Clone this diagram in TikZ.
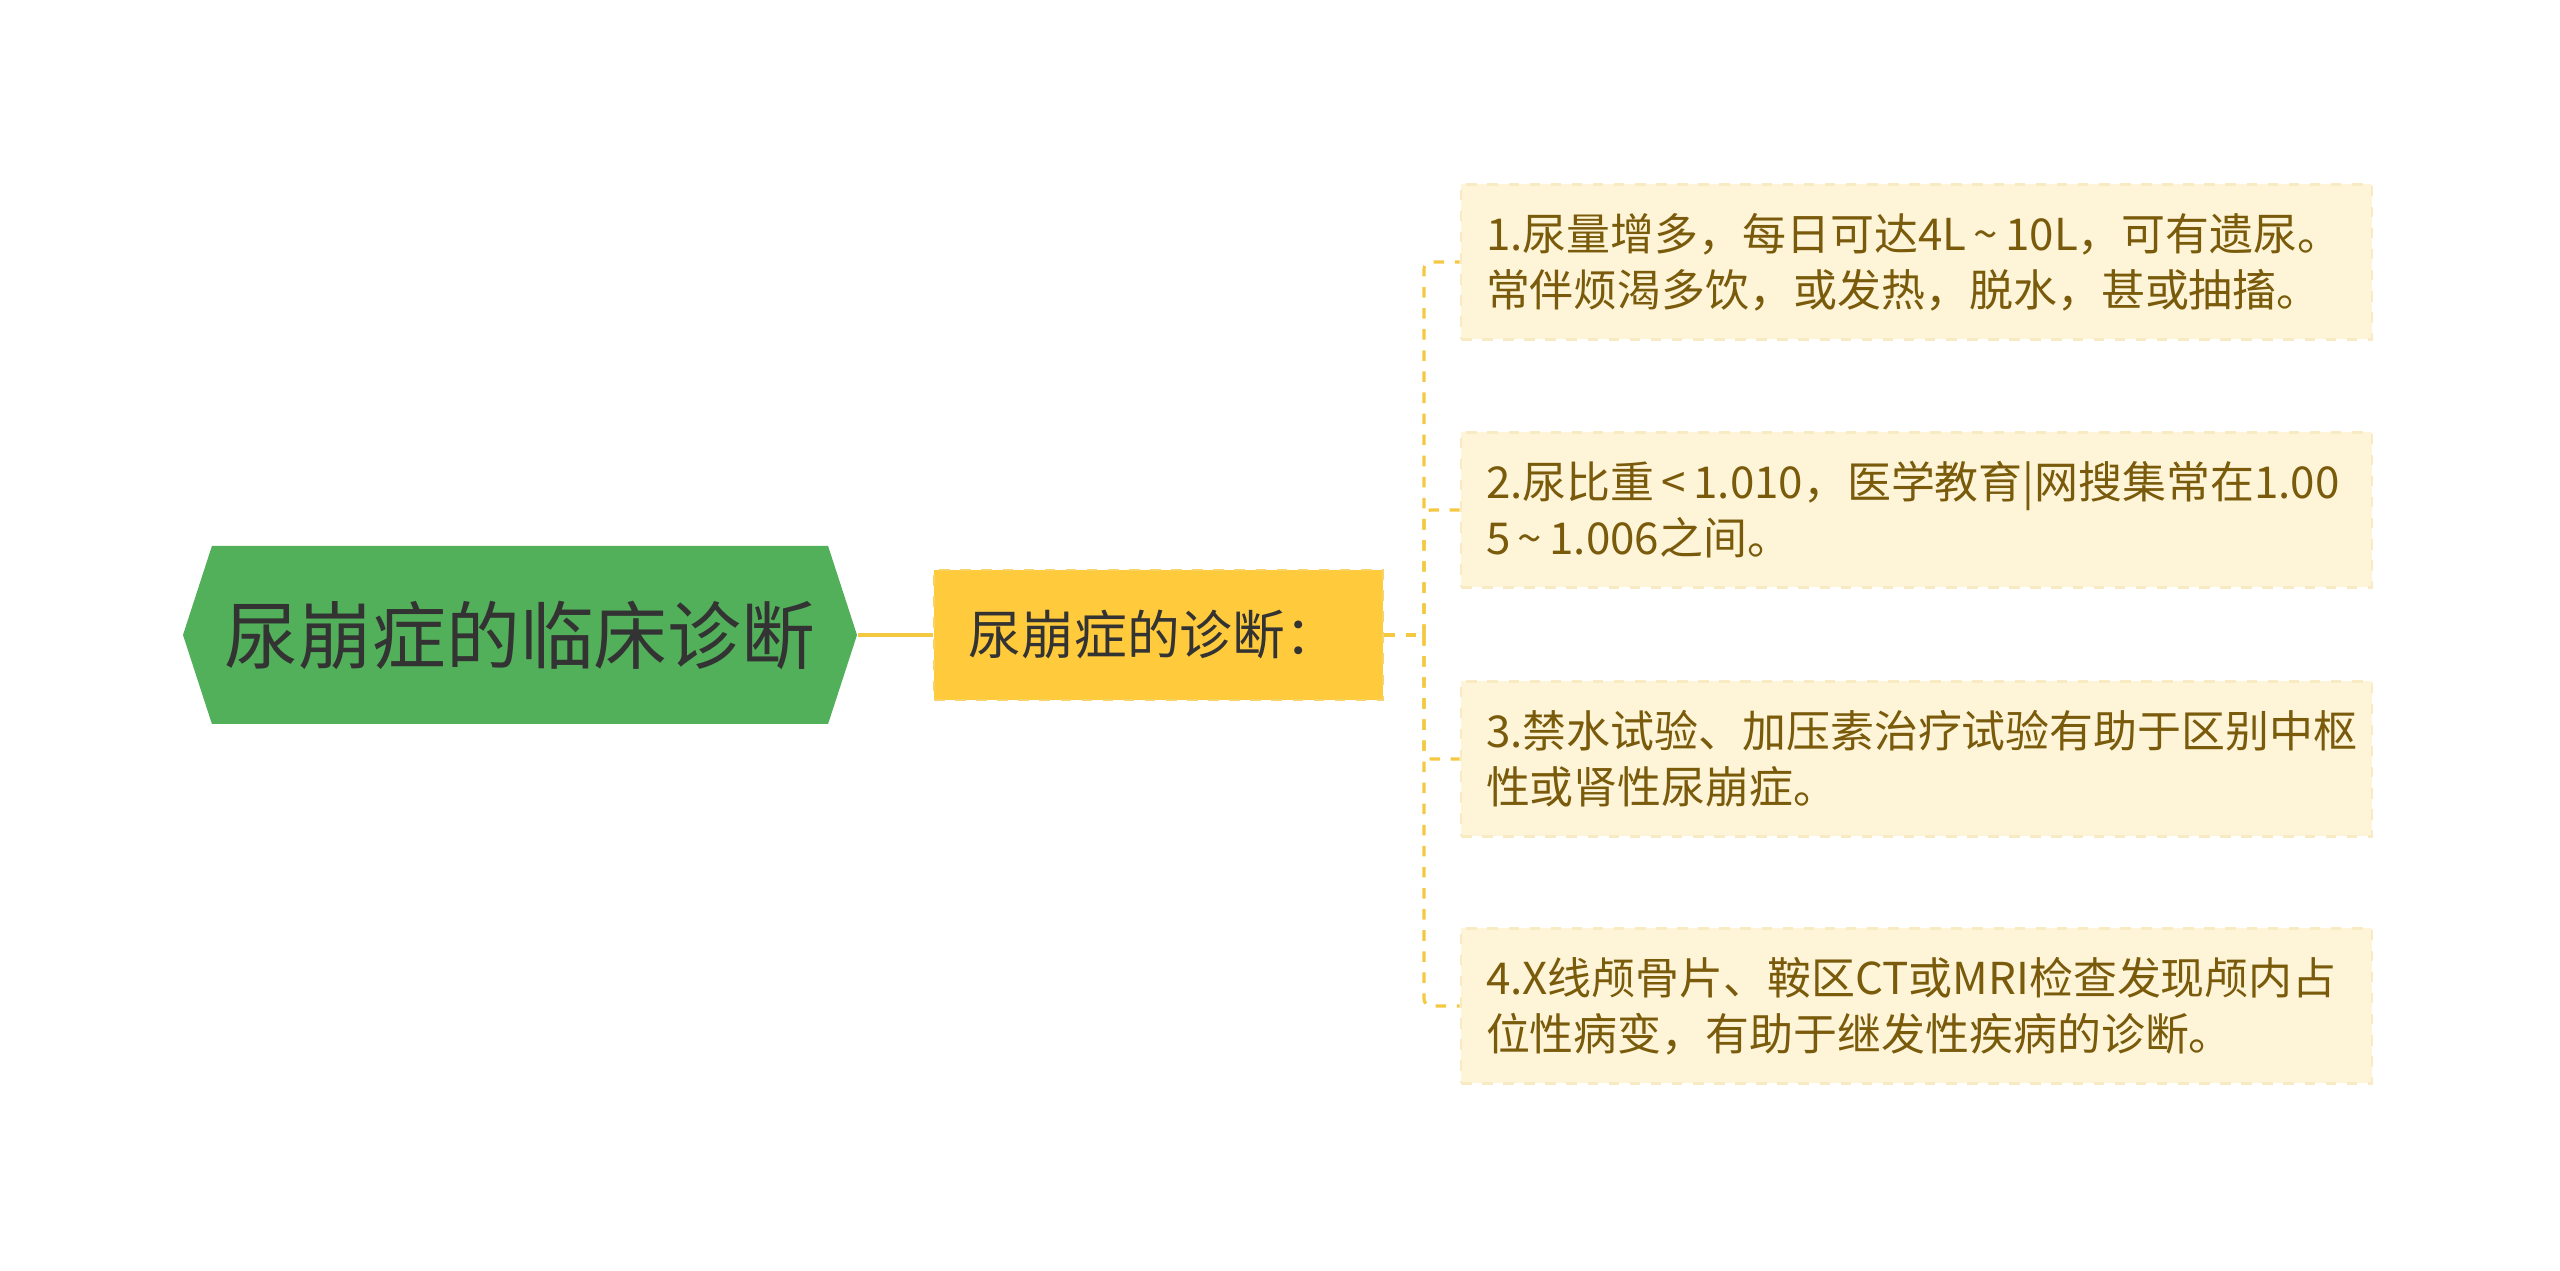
\documentclass[tikz,border=0pt]{standalone}
\usepackage{fontspec}
\setmainfont{Noto Sans CJK SC}
\usetikzlibrary{shapes.symbols}
\definecolor{mgreen}{HTML}{52B05A}
\definecolor{myellow}{HTML}{FFCA3C}
\definecolor{mline}{HTML}{F5C842}
\definecolor{mleaf}{HTML}{FEF5D8}
\definecolor{mleafedge}{HTML}{F8EAC2}
\definecolor{mbrown}{HTML}{7A5B0C}
\definecolor{mtext}{HTML}{333333}
\tikzset{root/.style = {shape=signal, signal to=west and east, signal pointer angle=144,
                        fill=mgreen, minimum width=6.74cm, minimum height=1.78cm,
                        inner sep=0, text=mtext, font=\fontsize{21}{25}\selectfont}}
\tikzset{sub/.style = {rectangle, fill=myellow, draw=mline!80!white, dashed, line width=0.8pt,
                       minimum width=4.49cm, minimum height=1.3cm, inner sep=0,
                       text=mtext, font=\fontsize{15}{18}\selectfont}}
\tikzset{leaf/.style = {rectangle, fill=mleaf, draw=mleafedge, dashed, line width=0.8pt,
                        text width=8.61cm, align=left, inner sep=0.25cm, minimum height=1.55cm,
                        text=mbrown, font=\fontsize{12.5}{16}\selectfont}}
\tikzset{branch/.style = {draw=mline, dashed, line width=0.9pt, rounded corners=2pt}}
\newcommand{\tld}{\,\textasciitilde\,}

\begin{document}
\begin{tikzpicture}
        \useasboundingbox (0, 0) rectangle (25.6, 12.71);

        \node [root] (root) at (5.2, 6.36) {尿崩症的临床诊断};
        \node [sub] (diag) at (11.585, 6.36) {\hspace*{-0.1cm}尿崩症的诊断：};

        \node [leaf] (l1) at (19.165, 10.09) {1.尿量增多，每日可达4L\tld 10L，可有遗尿。\\常伴烦渴多饮，或发热，脱水，甚或抽搐。};
        \node [leaf] (l2) at (19.165, 7.61) {2.尿比重\,<\,1.010，医学教育|网搜集常在1.00\\5\tld 1.006之间。};
        \node [leaf] (l3) at (19.165, 5.12) {3.禁水试验、加压素治疗试验有助于区别中枢\\性或肾性尿崩症。};
        \node [leaf] (l4) at (19.165, 2.65) {4.X线颅骨片、鞍区CT或MRI检查发现颅内占\\位性病变，有助于继发性疾病的诊断。};

        \coordinate (spine) at (14.24, 6.36);

        \draw [branch, line width=1.4pt, dash pattern=on 28pt off 4pt] (root.east) -- (diag.west);
        \draw [branch] (diag.east) -- (spine);
        \draw [branch] (spine) -- (spine |- l1.west) -- (l1.west);
        \draw [branch] (spine) -- (spine |- l2.west) -- (l2.west);
        \draw [branch] (spine) -- (spine |- l3.west) -- (l3.west);
        \draw [branch] (spine) -- (spine |- l4.west) -- (l4.west);
      \end{tikzpicture}
\end{document}
